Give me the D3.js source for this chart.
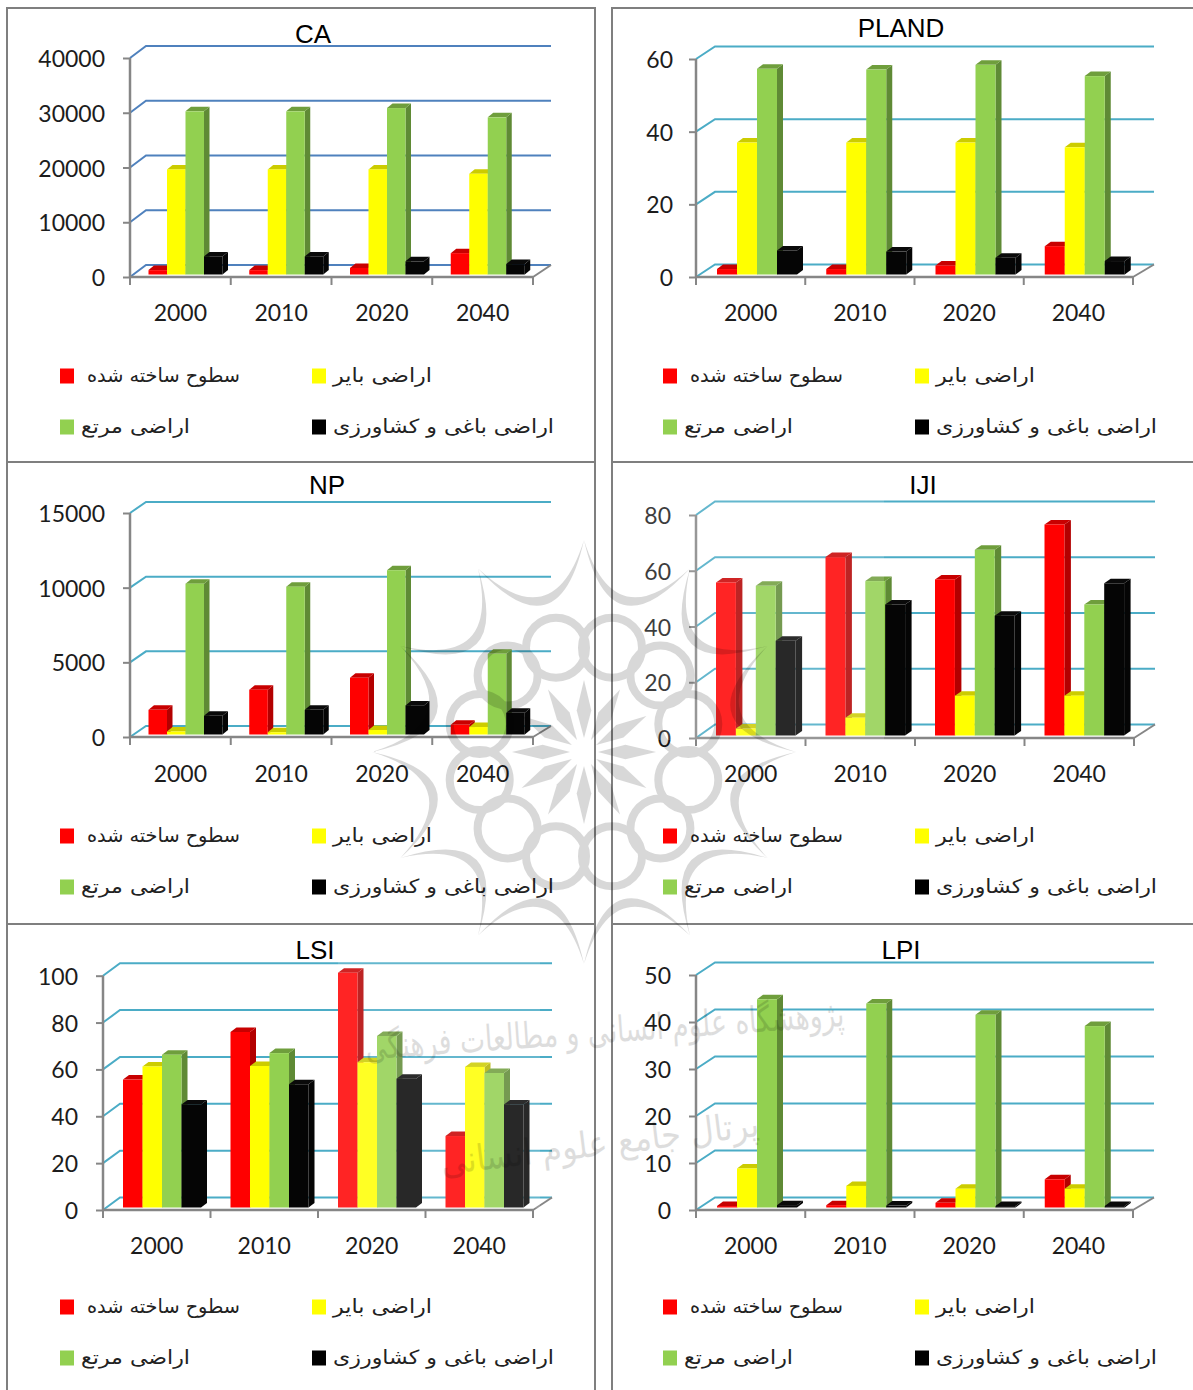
<!DOCTYPE html>
<html><head><meta charset="utf-8">
<script src="https://cdn.jsdelivr.net/npm/d3@7"></script>
<style>html,body{margin:0;padding:0;background:#fff}svg{display:block}</style>
</head><body><svg id="c" width="1193" height="1390"></svg>
<script>
const years = ["2000","2010","2020","2040"];
const legendLabels = ["سطوح ساخته شده","اراضی بایر","اراضی مرتع","اراضی باغی و کشاورزی"];

const caBuilt=[800,800,1200,3900], caBarren=[19200,19200,19200,18400], caRange=[29800,29800,30400,28700], caAgri=[3300,3300,2400,1900];
const plandBuilt=[1.5,1.5,2.5,7.8], plandBarren=[36.3,36.3,36.3,35], plandRange=[56.6,56.4,57.7,54.6], plandAgri=[6.6,6.3,4.6,3.7];
const npBuilt=[1650,3000,3800,650], npBarren=[200,150,300,500], npRange=[10100,9900,11000,5400], npAgri=[1250,1650,1950,1450];
const ijiBuilt=[54.9,64,56,75.7], ijiBarren=[2.5,6.4,14.3,14.3], ijiRange=[53.7,55.4,66.6,47], ijiAgri=[34,47,43,54.6];
const lsiBuilt=[54.6,74.9,100.2,30.5], lsiBarren=[60.2,60.4,62,60], lsiRange=[65.2,65.9,73.2,57.4], lsiAgri=[44,52.6,55,44];
const lpiBuilt=[0.3,0.5,1,6], lpiBarren=[8.3,4.6,4,4], lpiRange=[44.3,43.4,41,38.6], lpiAgri=[0.5,0.4,0.3,0.3];

const metricTicks = {CA:[0,10000,20000,30000,40000],PLAND:[0,20,40,60],NP:[0,5000,10000,15000],IJI:[0,20,40,60,80],LSI:[0,20,40,60,80,100],LPI:[0,10,20,30,40,50]};

const palette=[
 {face:"#ff0000",side:"#b30000",top:"#c80000"},
 {face:"#ffff00",side:"#b3b300",top:"#cccc00"},
 {face:"#92d050",side:"#5f8a35",top:"#6f9e3c"},
 {face:"#050505",side:"#050505",top:"#0a0a0a"}];

const panels=[
 {name:"CA",series:[caBuilt,caBarren,caRange,caAgri],x0:130,x1:533,yBase:277,yTop:58,dx:16,dy:12,depth:5.5,grid:"#4f81bd",labelRight:105,offset:18.5,w:18.5,titleX:313,titleY:34,catY:313,legendDx:0,legendY:[376,427]},
 {name:"PLAND",series:[plandBuilt,plandBarren,plandRange,plandAgri],x0:696,x1:1133,yBase:277,yTop:59,dx:19,dy:12.5,depth:6,grid:"#4bacc6",labelRight:673,offset:21,w:20,titleX:901,titleY:28,catY:313,legendDx:603,legendY:[376,427]},
 {name:"NP",series:[npBuilt,npBarren,npRange,npAgri],x0:130,x1:533,yBase:737,yTop:513,dx:16,dy:11,depth:5.5,grid:"#4bacc6",labelRight:105,offset:18.5,w:18.5,titleX:327,titleY:485,catY:774,legendDx:0,legendY:[836,887]},
 {name:"IJI",series:[ijiBuilt,ijiBarren,ijiRange,ijiAgri],x0:696,x1:1134,yBase:738,yTop:515,dx:19,dy:13.5,depth:6.5,grid:"#4bacc6",labelRight:671,offset:20,w:19.9,titleX:923,titleY:485,catY:774,legendDx:603,legendY:[836,887]},
 {name:"LSI",series:[lsiBuilt,lsiBarren,lsiRange,lsiAgri],x0:103,x1:533,yBase:1210,yTop:975.7,dx:17,dy:12.5,depth:6,grid:"#4bacc6",labelRight:78,offset:20,w:19.5,titleX:315,titleY:950,catY:1246,legendDx:0,legendY:[1307,1358]},
 {name:"LPI",series:[lpiBuilt,lpiBarren,lpiRange,lpiAgri],x0:696,x1:1133,yBase:1210,yTop:975,dx:19,dy:12.5,depth:6,grid:"#4bacc6",labelRight:671,offset:21,w:20,titleX:901,titleY:950,catY:1246,legendDx:603,legendY:[1307,1358]}
];
const axisGray="#868686", textCol="#1c1c1c";
const svg=d3.select("#c");
svg.append("rect").attr("width",1193).attr("height",1390).attr("fill","#fff");

panels.forEach(p=>{
  const g=svg.append("g").attr("class","panel");
  const ticks=metricTicks[p.name];
  const y=d3.scaleLinear().domain([0,d3.max(ticks)]).range([p.yBase,p.yTop]);
  const x=d3.scaleBand().domain(years).range([p.x0,p.x1]);
  const inner=d3.scaleBand().domain([0,1,2,3]).range([p.offset,p.offset+4*p.w]);
  const depthX=p.depth, depthY=4.5, lift=2.5;

  g.append("g").selectAll("path").data(ticks).join("path")
    .attr("d",t=>`M${p.x0},${y(t)}L${p.x0+p.dx},${y(t)-p.dy}L${p.x1+p.dx+2},${y(t)-p.dy}`)
    .attr("fill","none").attr("stroke",p.grid).attr("stroke-width",2);

  g.append("path").attr("d",`M${p.x1},${p.yBase}L${p.x1+p.dx+2},${p.yBase-p.dy}`).attr("fill","none").attr("stroke",axisGray).attr("stroke-width",2);

  const ax=g.append("g").attr("transform",`translate(${p.x0},0)`)
    .call(d3.axisLeft(y).tickValues(ticks).tickSize(7).tickPadding(0).tickFormat(d3.format("d")));
  ax.selectAll("path.domain").attr("stroke",axisGray).attr("stroke-width",2.5).attr("d",`M0,${p.yTop}V${p.yBase}`);
  ax.selectAll("line").attr("stroke",axisGray).attr("stroke-width",2);
  ax.selectAll("text").attr("x",p.labelRight-p.x0).attr("dy","0.37em").attr("font-family","Lato").attr("font-size",23).attr("fill",textCol);

  const bx=g.append("g").attr("transform",`translate(0,${p.yBase})`)
    .call(d3.axisBottom(x).tickSize(0).tickPadding(0));
  bx.selectAll("path.domain").attr("stroke",axisGray).attr("stroke-width",2.5).attr("d",`M${p.x0},0H${p.x1}`);
  bx.selectAll("text").attr("y",p.catY-p.yBase).attr("dy","0.35em").attr("font-family","Lato").attr("font-size",23).attr("fill",textCol);
  g.append("g").selectAll("line").data(d3.range(5)).join("line")
    .attr("x1",i=>p.x0+i*x.step()).attr("x2",i=>p.x0+i*x.step())
    .attr("y1",p.yBase).attr("y2",p.yBase+8).attr("stroke",axisGray).attr("stroke-width",2);

  const base=y(0)-lift;
  years.forEach((yr,i)=>{
    p.series.forEach((vals,s)=>{
      const x1=x(yr)+inner(s), x2=x1+inner.bandwidth(), top=y(vals[i])-lift, c=palette[s];
      const b=g.append("g").attr("class","bar");
      b.append("path").attr("fill",c.side).attr("d",`M${x2},${base}L${x2+depthX},${base-depthY}L${x2+depthX},${top-depthY}L${x2},${top}Z`);
      b.append("path").attr("fill",c.top).attr("d",`M${x1},${top}L${x1+depthX},${top-depthY}L${x2+depthX},${top-depthY}L${x2},${top}Z`);
      b.append("rect").attr("x",x1).attr("y",top).attr("width",x2-x1).attr("height",base-top).attr("fill",c.face);
    });
  });

  g.append("text").attr("x",p.titleX).attr("y",p.titleY).attr("dy","0.36em").attr("text-anchor","middle")
    .attr("font-family","Liberation Sans").attr("font-size",26).attr("fill","#000").text(p.name);

  const swatchX=[60,312,60,312], textRight=[240,432,190,554], textWide=[153,99,109,221];
  legendLabels.forEach((lab,s)=>{
    const ly=p.legendY[s<2?0:1];
    g.append("rect").attr("x",swatchX[s]+p.legendDx).attr("y",ly-7.5).attr("width",14).attr("height",15).attr("fill",s===3?"#000":palette[s].face);
    g.append("text").attr("x",textRight[s]+p.legendDx).attr("y",ly+6).attr("direction","rtl").attr("text-anchor","start")
      .attr("font-family","DejaVu Sans").attr("font-size",19.5).attr("fill","#222")
      .attr("textLength",textWide[s]).attr("lengthAdjust","spacingAndGlyphs").text(lab);
  });
});

const haze=[[612,500,272,240],[338,960,202,248]];
svg.append("g").selectAll("rect").data(haze).join("rect")
  .attr("x",d=>d[0]).attr("y",d=>d[1]).attr("width",d=>d[2]).attr("height",d=>d[3]).attr("fill","#fff").attr("opacity",.14);

const frame=svg.append("g").attr("stroke","#7f7f7f").attr("stroke-width",2).attr("fill","none");
[[7,1390,7,8,595,8,595,1390],[612,1390,612,8,1193,8]].forEach(pt=>{
  frame.append("path").attr("d","M"+d3.pairs(pt).filter((_,i)=>i%2===0).map(q=>q.join(",")).join("L"));
});
[[7,595,462],[612,1193,462],[7,595,924],[612,1193,924]].forEach(l=>{
  frame.append("line").attr("x1",l[0]).attr("x2",l[1]).attr("y1",l[2]).attr("y2",l[2]);
});

const wm=svg.append("g").attr("transform","translate(584,752)").attr("opacity",.15);
const N=12, R=212, pol=(r,a)=>[r*Math.cos(a),r*Math.sin(a)].map(v=>v.toFixed(1)).join(",");
const step=2*Math.PI/N, a0=-Math.PI/2;
d3.range(N).forEach(i=>{
  const a=a0+i*step, b=a+step, m=a+step/2;
  wm.append("path").attr("d",`M${pol(R,a)}Q${pol(118,m)} ${pol(R,b)}Q${pol(100,m)} ${pol(R,a)}Z`);
  const c=pol(108,m).split(",").map(Number);
  wm.append("circle").attr("cx",c[0]).attr("cy",c[1]).attr("r",30).attr("fill","none").attr("stroke","#000").attr("stroke-width",8);
  wm.append("path").attr("d",`M${pol(72,a)}L${pol(42,a+step/3)}L${pol(14,a)}L${pol(42,a-step/3)}Z`);
});

svg.append("text").attr("transform","translate(845,1026) rotate(-4)").attr("direction","rtl").attr("text-anchor","start")
  .attr("font-family","DejaVu Sans").attr("font-size",36).attr("fill","#000").attr("opacity",.13)
  .attr("textLength",480).attr("lengthAdjust","spacingAndGlyphs").text("پژوهشگاه علوم انسانی و مطالعات فرهنگی");
svg.append("text").attr("transform","translate(760,1136) rotate(-7)").attr("direction","rtl").attr("text-anchor","start")
  .attr("font-family","DejaVu Sans").attr("font-size",36).attr("fill","#000").attr("opacity",.13)
  .attr("textLength",320).attr("lengthAdjust","spacingAndGlyphs").text("پرتال جامع علوم انسانی");
</script></body></html>
